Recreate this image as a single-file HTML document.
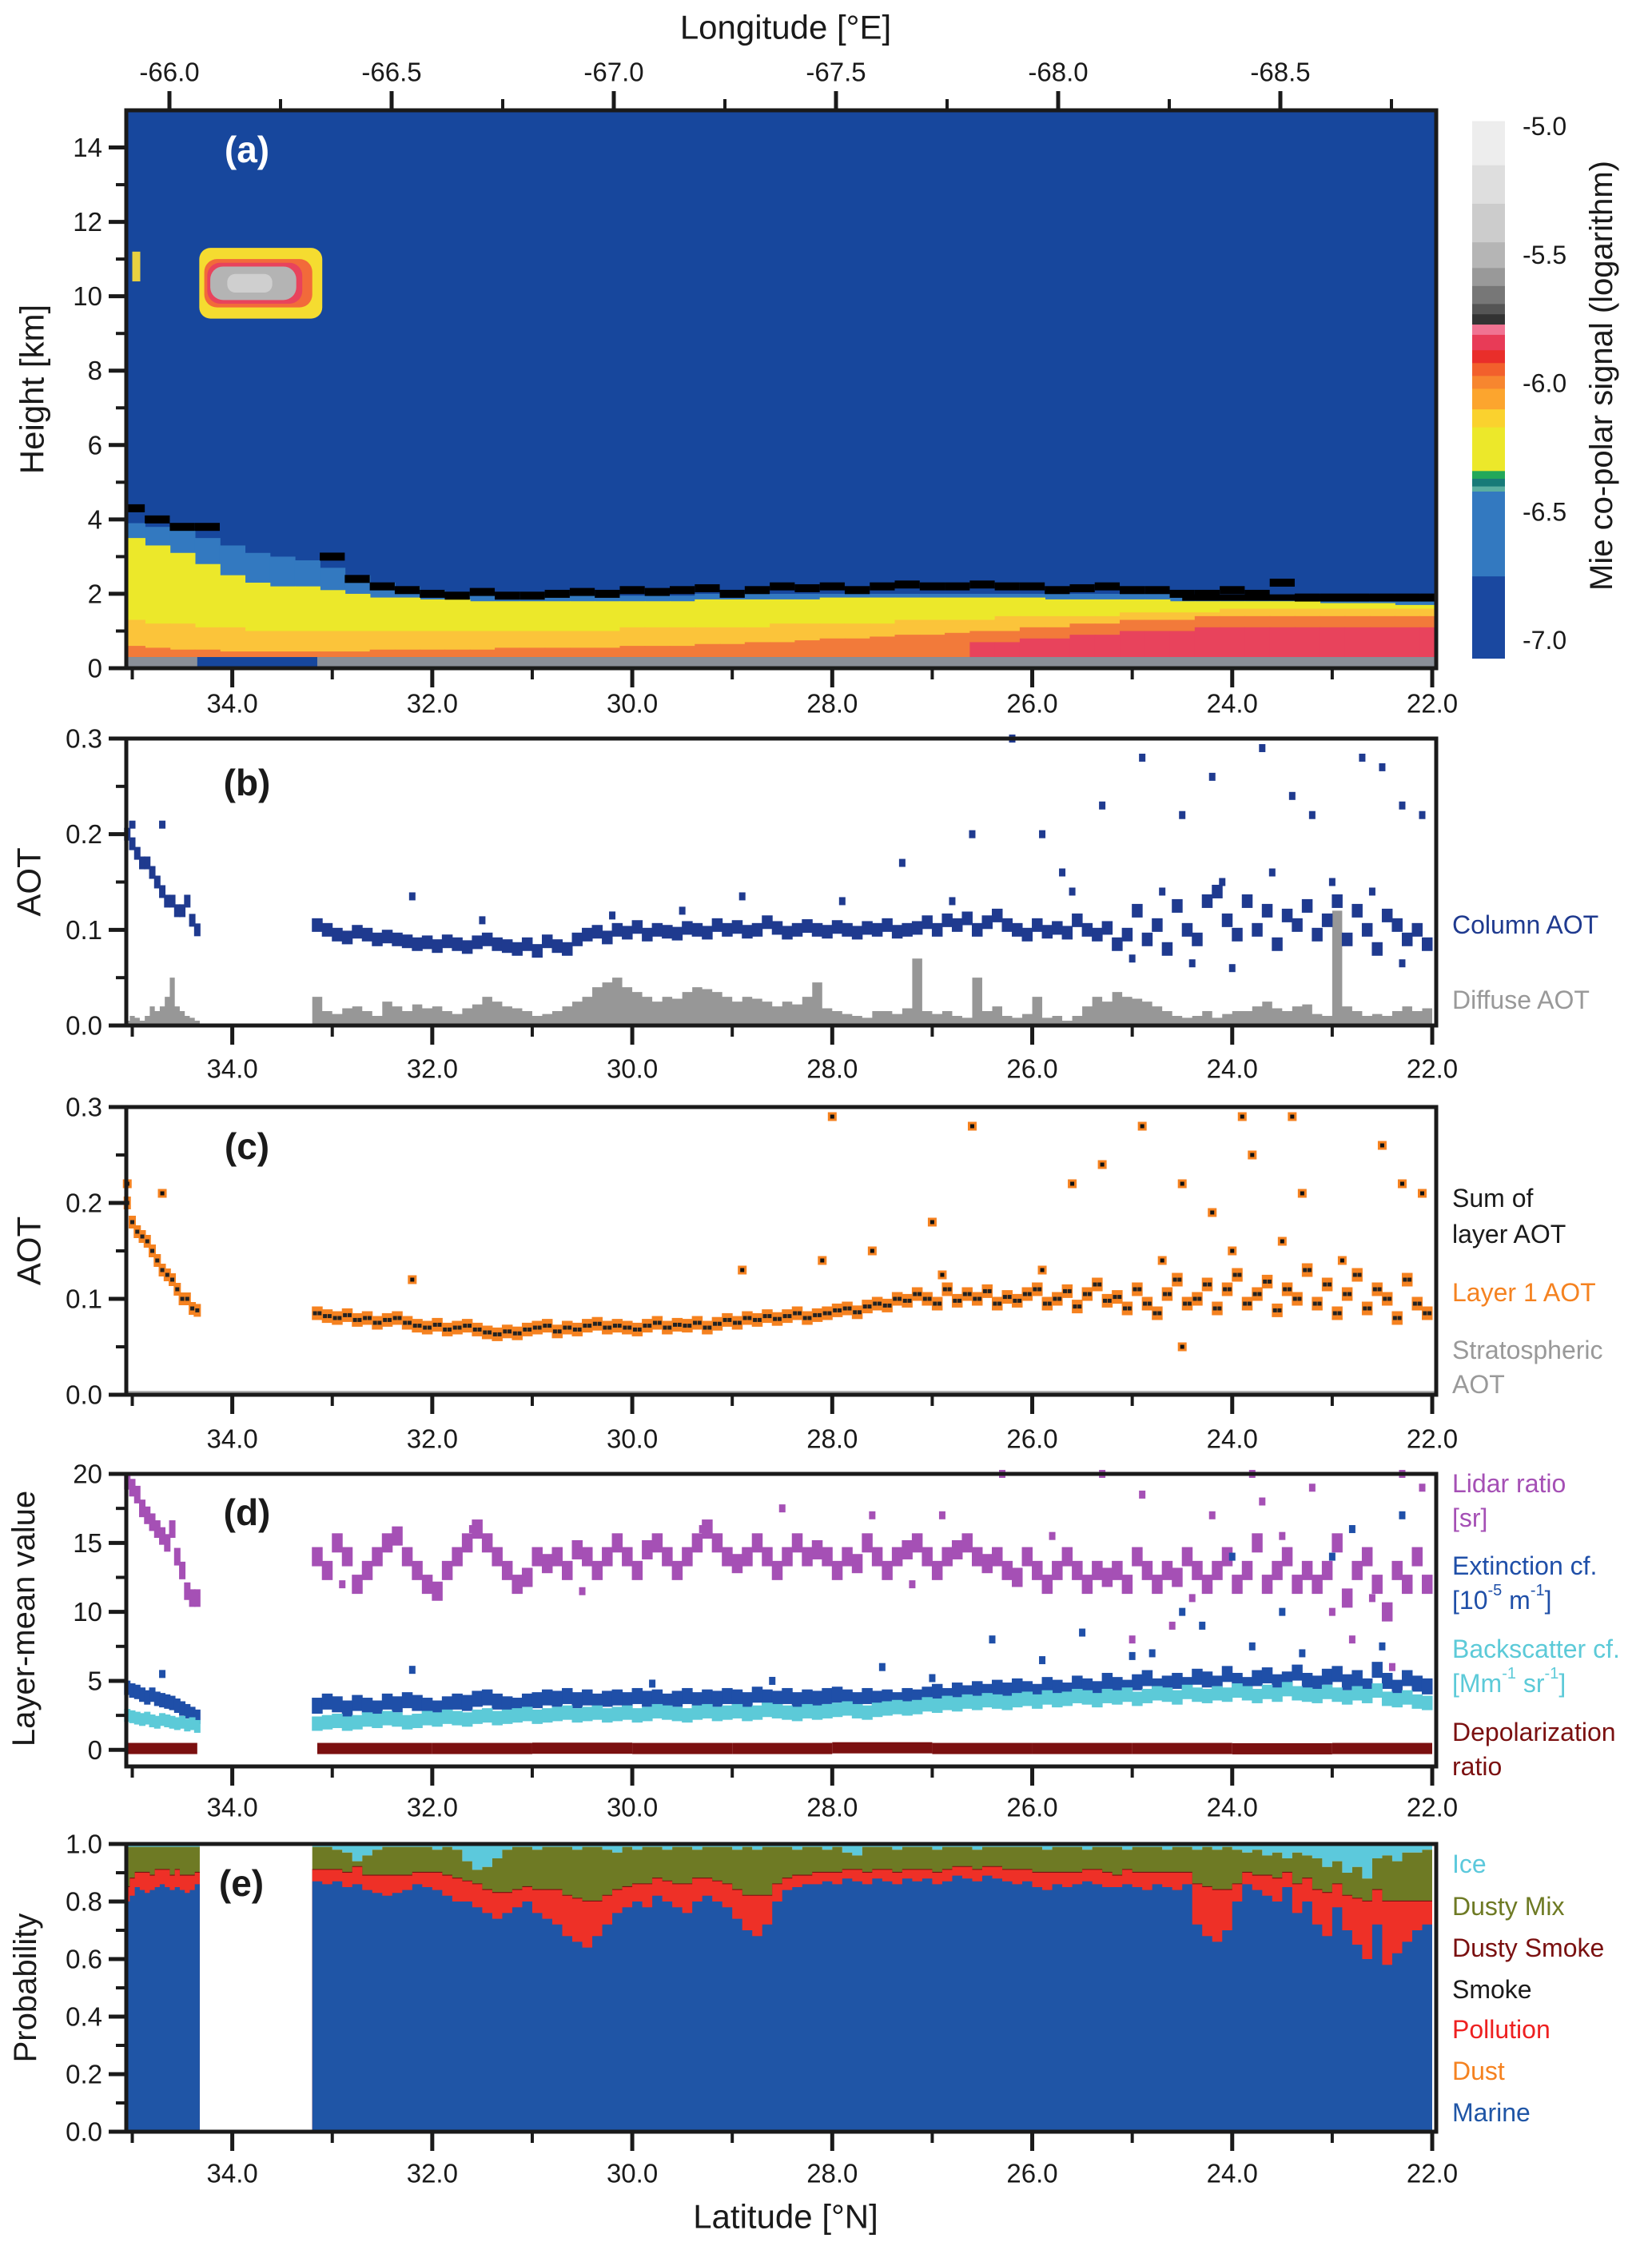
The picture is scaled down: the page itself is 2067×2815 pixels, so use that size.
<!DOCTYPE html>
<html><head><meta charset="utf-8">
<style>
html,body{margin:0;padding:0;background:#fff;}
svg{display:block;font-family:"Liberation Sans",Arial,sans-serif;}
</style></head>
<body>
<svg id="fig" width="2067" height="2815" viewBox="0 0 2067 2815" xmlns="http://www.w3.org/2000/svg"></svg>
<script>
// ---------- DATA ----------
const seg1Start = 35.05, seg1Step = 0.05;
const seg2Start = 33.15, seg2Step = 0.1;
const curtStart = 35.0, curtStep = 0.25;

const colAOT1 = [.20,.19,.18,.17,.17,.16,.15,.14,.13,.13,.12,.12,.13,.11,.10];
const colAOT2 = [.105,.100,.095,.092,.098,.095,.090,.093,.090,.088,
.085,.087,.083,.088,.085,.082,.087,.090,.085,.083,
.080,.085,.078,.088,.083,.080,.090,.095,.098,.092,
.100,.097,.103,.095,.100,.098,.096,.102,.100,.097,
.105,.100,.103,.098,.100,.108,.102,.097,.100,.104,
.100,.098,.103,.100,.097,.102,.100,.105,.098,.100,
.102,.108,.100,.110,.105,.112,.100,.108,.115,.105,
.100,.095,.105,.098,.102,.097,.110,.100,.095,.102,
.085,.095,.120,.090,.105,.080,.125,.100,.090,.130,
.140,.110,.095,.130,.100,.120,.085,.115,.105,.125,
.095,.110,.130,.090,.120,.100,.080,.115,.105,.090,
.100,.085];
const colAOTout = [[35.0,.21],[34.7,.21],[32.2,.135],[28.9,.135],[27.9,.13],[27.3,.17],[26.6,.20],[26.2,.30],[25.9,.20],[25.7,.16],[25.3,.23],[24.9,.28],[24.5,.22],[24.2,.26],[23.7,.29],[23.4,.24],[23.2,.22],[22.7,.28],[22.5,.27],[22.3,.23],[22.1,.22],[24.0,.06],[24.4,.065],[25.0,.07],[22.3,.065],[24.7,.14],[24.1,.15],[23.6,.16],[23.0,.15],[22.6,.14],[25.6,.14],[26.8,.13],[29.5,.12],[30.2,.115],[31.5,.11]];
const diff1 = [.005,.01,.008,.005,.01,.02,.015,.02,.03,.05,.02,.015,.01,.008,.005];
const diff2 = [.030,.015,.012,.018,.020,.015,.010,.025,.020,.015,
.022,.018,.020,.015,.012,.018,.022,.030,.025,.020,
.018,.015,.010,.012,.015,.020,.025,.030,.040,.045,
.050,.040,.035,.030,.025,.030,.028,.035,.040,.038,
.035,.030,.025,.030,.028,.025,.020,.025,.022,.030,
.045,.018,.015,.012,.010,.008,.015,.015,.012,.018,
.070,.015,.012,.015,.010,.008,.050,.015,.020,.010,
.008,.012,.030,.008,.010,.005,.010,.020,.030,.025,
.035,.030,.028,.025,.020,.015,.010,.008,.010,.015,
.008,.012,.015,.015,.020,.025,.018,.015,.020,.022,
.012,.010,.120,.020,.015,.010,.012,.010,.015,.020,
.015,.018];

const sum1 = [.20,.18,.17,.165,.16,.15,.14,.13,.125,.12,.11,.10,.10,.09,.088];
const sum2 = [.085,.082,.080,.083,.078,.080,.075,.078,.080,.075,
.072,.070,.073,.068,.070,.072,.068,.065,.063,.066,
.064,.068,.070,.072,.066,.070,.068,.072,.074,.070,
.072,.070,.068,.072,.075,.070,.073,.072,.075,.070,
.074,.078,.075,.080,.078,.082,.079,.082,.085,.080,
.083,.085,.088,.090,.086,.092,.095,.093,.100,.098,
.105,.100,.095,.110,.098,.105,.100,.108,.095,.102,
.098,.105,.110,.095,.100,.108,.092,.105,.115,.098,
.102,.090,.110,.095,.085,.105,.120,.095,.100,.115,
.090,.110,.125,.095,.105,.118,.088,.110,.100,.130,
.095,.115,.085,.105,.125,.090,.110,.100,.080,.120,
.095,.085];
const sumOut = [[35.05,.22],[34.7,.21],[32.2,.12],[28.9,.13],[28.0,.29],[28.1,.14],[27.6,.15],[27.0,.18],[26.6,.28],[25.6,.22],[25.3,.24],[24.9,.28],[24.5,.22],[24.2,.19],[23.9,.29],[23.8,.25],[23.4,.29],[23.3,.21],[22.5,.26],[22.3,.22],[24.5,.05],[22.1,.21],[24.7,.14],[24.0,.15],[23.5,.16],[22.9,.14],[25.9,.13],[26.9,.125]];

const lidar1 = [19.5,19,18.5,17.5,17,16.5,16,15.5,15,16,14,13,11.5,11,11];
const lidar2 = [14,13,15,14,12,13,14,15,15.5,14,
13,12,11.5,13,14,15,16,15,14,13,
12,12.5,14,13.5,14,13,14.5,14,13,14,
15,14,13,14.5,15,14,13,14,15,16,
15,14,13.5,14,15,14,13,14,15,14,
14.5,14,13,14,13.5,15,14,13,14,14.5,
15,14,13,14,14.5,15,14,13.5,14,13,
12.5,14,13,12,13,14,13,12,13,12.5,
13,12,14,13,12,13,12.5,14,13,12,
13,14,12,13,15,12,13,14,12,13,
12,13,15,11,13,14,12,10,13,12,
14,12];
const lidarOut = [[26.3,20],[25.3,20],[24.9,18.5],[24.2,17],[23.8,20],[23.7,18],[23.2,19],[22.3,20],[22.1,19],[28.5,17.5],[27.6,17],[26.9,17],[25.0,8],[24.6,9],[22.8,8],[22.4,6],[23.0,10],[32.9,12],[31.6,16],[30.5,11.5],[29.3,16],[27.2,12],[25.8,15.5],[24.4,11],[23.5,15.5],[22.6,11]];
const ext1 = [4.5,4.3,4.2,4.0,3.8,4.0,3.7,3.6,3.5,3.4,3.2,3.0,2.8,2.6,2.4];
const ext2 = [3.2,3.5,3.3,3.0,3.4,3.2,3.0,3.5,3.3,3.6,
3.4,3.2,3.0,3.3,3.5,3.4,3.7,3.8,3.5,3.3,
3.2,3.5,3.6,3.8,3.7,3.9,3.6,3.8,3.5,3.7,
3.8,3.6,3.9,3.7,3.8,3.5,3.7,3.9,3.6,3.8,
3.7,3.9,3.8,3.6,4.0,3.8,3.7,3.9,3.6,3.8,
3.7,3.9,4.0,3.8,3.6,3.9,3.7,3.8,3.6,3.9,
3.8,4.0,4.2,3.9,4.3,4.1,4.4,4.2,4.5,4.3,
4.6,4.4,4.2,4.7,4.5,4.3,4.8,4.6,4.4,5.0,
4.7,4.5,4.9,5.2,4.6,4.8,5.0,4.7,5.3,5.1,
4.8,5.5,5.0,4.7,5.2,5.4,4.9,5.1,5.6,5.0,
4.8,5.3,5.5,4.9,5.2,4.6,5.8,5.0,4.5,5.2,
4.8,4.6];
const extOut = [[34.7,5.5],[32.2,5.8],[27.5,6],[26.4,8],[25.5,8.5],[24.5,10],[24.3,9],[23.5,10],[23.0,14],[22.3,17],[24.0,14],[22.8,16],[29.8,4.8],[28.6,5.0],[27.0,5.2],[25.9,6.5],[25.0,6.8],[24.8,7],[23.8,7.5],[23.3,7],[22.5,7.5]];
const bsc1 = [2.5,2.4,2.3,2.2,2.3,2.1,2.0,2.2,2.1,2.0,1.9,2.0,1.8,1.9,1.7];
const bsc2 = [1.9,2.0,2.1,1.9,2.0,2.2,2.1,2.3,2.2,2.0,
2.1,2.3,2.2,2.4,2.3,2.2,2.4,2.5,2.3,2.4,
2.5,2.6,2.4,2.5,2.6,2.7,2.5,2.6,2.7,2.5,
2.6,2.7,2.5,2.6,2.8,2.7,2.6,2.5,2.7,2.8,
2.6,2.7,2.8,2.6,2.7,2.9,2.8,2.7,2.6,2.8,
2.7,2.8,2.9,3.0,2.8,2.7,2.9,3.0,3.1,3.0,
3.1,3.3,3.2,3.4,3.3,3.5,3.4,3.6,3.5,3.4,
3.6,3.7,3.5,3.8,3.6,3.7,3.9,3.8,3.6,3.9,
3.8,4.0,3.7,3.9,4.1,4.0,3.8,4.2,4.0,3.9,
4.1,4.0,4.3,4.1,3.9,4.2,4.0,4.4,4.1,4.0,
3.9,4.2,4.0,3.8,4.1,3.9,4.3,3.7,3.6,3.8,
3.5,3.4];
const depolLat = [35.05,34.35,33.15,32,31,30,29,28,27,26,25,24,23,22.0];
const depolVal = [0.1,0.1,0.1,0.1,0.12,0.1,0.1,0.15,0.1,0.1,0.1,0.08,0.1,0.1];

const marine1 = [.80,.82,.85,.84,.83,.84,.85,.86,.85,.84,.85,.84,.83,.84,.86];
const marine2 = [.87,.86,.87,.85,.86,.84,.83,.82,.83,.84,
.86,.85,.84,.82,.80,.80,.78,.76,.74,.76,
.78,.80,.76,.74,.72,.68,.66,.64,.68,.72,
.76,.78,.80,.78,.82,.80,.78,.76,.80,.82,
.80,.78,.74,.70,.68,.72,.80,.84,.85,.86,
.86,.87,.86,.88,.87,.86,.88,.87,.86,.88,
.87,.88,.86,.87,.89,.88,.87,.89,.88,.87,
.86,.87,.85,.84,.86,.85,.86,.87,.86,.85,
.85,.86,.85,.84,.86,.85,.84,.86,.72,.68,
.66,.70,.80,.86,.84,.82,.80,.85,.76,.80,
.72,.68,.78,.70,.65,.60,.72,.58,.62,.66,
.70,.72];
const poll1 = [.05,.06,.05,.06,.07,.05,.06,.05,.06,.05,.06,.05,.06,.05,.04];
const poll2 = [.04,.05,.04,.05,.06,.05,.06,.07,.06,.05,
.04,.05,.06,.07,.08,.07,.08,.08,.09,.07,
.06,.05,.08,.10,.12,.14,.15,.16,.12,.10,
.08,.07,.06,.08,.06,.07,.08,.10,.08,.06,
.07,.08,.10,.12,.14,.10,.06,.04,.04,.03,
.04,.03,.04,.03,.04,.04,.03,.04,.04,.03,
.04,.03,.04,.04,.03,.04,.04,.03,.04,.04,
.05,.04,.05,.06,.04,.05,.04,.04,.05,.05,
.04,.05,.05,.06,.04,.05,.06,.04,.14,.17,
.18,.14,.06,.04,.05,.07,.08,.05,.10,.08,
.12,.15,.08,.12,.16,.20,.12,.22,.18,.14,
.10,.08];
const ice1 = [.01,.01,.01,.01,.01,.01,.01,.01,.01,.01,.01,.01,.01,.01,.01];
const ice2 = [.01,.01,.02,.03,.06,.04,.02,.01,.01,.01,
.01,.01,.02,.01,.02,.06,.09,.08,.05,.02,
.01,.01,.02,.01,.01,.01,.02,.01,.01,.02,
.03,.01,.02,.01,.01,.02,.01,.01,.02,.01,
.01,.01,.02,.01,.02,.01,.01,.01,.02,.01,
.01,.02,.01,.03,.04,.01,.01,.01,.02,.01,
.01,.01,.02,.01,.01,.01,.02,.01,.01,.01,
.01,.01,.01,.02,.01,.01,.01,.02,.01,.01,
.01,.02,.01,.01,.01,.02,.01,.01,.02,.01,
.02,.01,.02,.03,.02,.04,.03,.05,.03,.04,
.05,.08,.06,.10,.08,.12,.05,.04,.06,.03,
.03,.02];

const yellowTop = [3.5,3.3,3.1,2.8,2.5,2.3,2.2,2.2,2.1,2.0,1.9,1.9,1.85,1.85,1.8,1.8,1.8,1.8,1.8,1.8,1.8,1.8,1.8,1.85,1.85,1.85,1.85,1.85,1.9,1.9,1.9,1.9,1.9,1.9,1.9,1.9,1.9,1.85,1.85,1.85,1.85,1.85,1.8,1.8,1.8,1.8,1.8,1.8,1.75,1.75,1.75,1.7,1.7];
const lightBlueTop = [3.9,3.8,3.7,3.5,3.3,3.1,3.0,2.9,2.7,2.5,2.3,2.2,2.1,2.0,2.0,1.95,1.95,1.95,1.95,1.95,1.95,1.95,1.95,2.0,2.0,2.0,2.0,2.0,2.0,2.0,2.0,2.0,2.0,2.0,2.0,2.0,2.0,2.0,2.0,2.0,2.0,2.0,1.9,1.9,1.9,1.9,1.9,1.9,1.85,1.85,1.85,1.8,1.8];
const orangeTop = [1.3,1.2,1.2,1.1,1.1,1.0,1.0,1.0,1.0,1.0,1.0,1.0,1.0,1.0,1.0,1.0,1.0,1.0,1.0,1.0,1.1,1.1,1.1,1.1,1.1,1.1,1.2,1.2,1.2,1.2,1.2,1.3,1.3,1.3,1.3,1.4,1.4,1.4,1.4,1.4,1.5,1.5,1.5,1.5,1.6,1.6,1.6,1.6,1.6,1.6,1.6,1.6,1.6];
const redTop = [0.6,0.55,0.5,0.5,0.45,0.45,0.45,0.45,0.45,0.45,0.5,0.5,0.5,0.5,0.5,0.55,0.55,0.55,0.55,0.55,0.6,0.6,0.6,0.65,0.65,0.7,0.7,0.75,0.8,0.8,0.85,0.9,0.9,0.95,1.0,1.0,1.1,1.1,1.2,1.2,1.3,1.3,1.3,1.4,1.4,1.4,1.4,1.4,1.4,1.4,1.4,1.4,1.4];
const layerTop = [4.3,4.0,3.8,3.8,null,null,null,null,3.0,2.4,2.2,2.1,2.0,1.95,2.05,1.95,1.95,2.0,2.05,2.0,2.1,2.05,2.1,2.15,2.0,2.1,2.2,2.15,2.2,2.1,2.2,2.25,2.2,2.2,2.25,2.2,2.2,2.1,2.15,2.2,2.1,2.1,2.0,2.0,2.1,2.0,2.3,1.9,1.9,1.9,1.9,1.9,1.9];

const latTicks = [34,32,30,28,26,24,22];
const latMinor = [35,33,31,29,27,25,23];
const lonTicks = [-66.0,-66.5,-67.0,-67.5,-68.0,-68.5];
const lonMinor = [-66.25,-66.75,-67.25,-67.75,-68.25,-68.75];
const hTicks = [0,2,4,6,8,10,12,14];
const aotTicks = [0.0,0.1,0.2,0.3];
const dTicks = [0,5,10,15,20];
const pTicks = [0.0,0.2,0.4,0.6,0.8,1.0];
const cbTicks = [-5.0,-5.5,-6.0,-6.5,-7.0];
const cbStops = [[-7.07,-6.75,'#1a48a0'],[-6.75,-6.42,'#3379c0'],[-6.42,-6.40,'#5aaea0'],[-6.40,-6.37,'#177a78'],[-6.37,-6.34,'#22a85a'],[-6.34,-6.17,'#ece82a'],[-6.17,-6.10,'#fad22e'],[-6.10,-6.02,'#fca52e'],[-6.02,-5.97,'#f7862f'],[-5.97,-5.92,'#f2602c'],[-5.92,-5.87,'#e92e2a'],[-5.87,-5.81,'#e83b57'],[-5.81,-5.77,'#f07392'],[-5.77,-5.73,'#333333'],[-5.73,-5.69,'#555555'],[-5.69,-5.62,'#777777'],[-5.62,-5.55,'#999999'],[-5.55,-5.45,'#b5b5b5'],[-5.45,-5.3,'#cccccc'],[-5.3,-5.15,'#dedede'],[-5.15,-4.98,'#ededed']];

// ---------- LAYOUT ----------
const NS='http://www.w3.org/2000/svg';
const svg=document.getElementById('fig');
const X0=158,X1=1797,LATMAX=35.06,LATMIN=21.96;
function xs(lat){return X0+(LATMAX-lat)/(LATMAX-LATMIN)*(X1-X0);}
function xlon(lon){return 212+(-66-lon)/0.5*278;}
function mk(tag,attrs,parent){const e=document.createElementNS(NS,tag);for(const k in attrs)e.setAttribute(k,attrs[k]);(parent||svg).appendChild(e);return e;}
function txt(s,x,y,size,fill,anchor,parent,extra){const t=mk('text',Object.assign({x:x,y:y,'font-size':size,fill:fill,'text-anchor':anchor||'middle','dominant-baseline':'central'},extra||{}),parent);t.textContent=s;return t;}
function yScale(top,bot,vmin,vmax){return v=>bot-(v-vmin)/(vmax-vmin)*(bot-top);}

const panels={a:[138,836,0,15],b:[924,1283,0,0.3],c:[1385,1745,0,0.3],d:[1844,2210,-1.2,20],e:[2307,2667,0,1]};

function frame(id,yTop,yBot,yTicks,ys,fmt,labY,name){
  const g=mk('g',{});
  
  
  mk('rect',{x:X0,y:yTop,width:X1-X0,height:yBot-yTop,fill:'none',stroke:'#1a1a1a','stroke-width':5},g);
  latTicks.forEach(l=>{mk('line',{x1:xs(l),x2:xs(l),y1:yBot,y2:yBot+24,stroke:'#1a1a1a','stroke-width':5},g);
    const t=txt(l.toFixed(1),xs(l),labY,33,'#1a1a1a','middle',g);
    });
  latMinor.forEach(l=>mk('line',{x1:xs(l),x2:xs(l),y1:yBot,y2:yBot+14,stroke:'#1a1a1a','stroke-width':4},g));
  yTicks.forEach(v=>{const y=ys(v);mk('line',{x1:X0-22,x2:X0,y1:y,y2:y,stroke:'#1a1a1a','stroke-width':5},g);
    const t=txt(fmt(v),X0-30,y,33,'#1a1a1a','end',g);
    });
  for(let i=0;i<yTicks.length-1;i++){const y=ys((yTicks[i]+yTicks[i+1])/2);mk('line',{x1:X0-13,x2:X0,y1:y,y2:y,stroke:'#1a1a1a','stroke-width':4},g);}
  return g;
}
function panelLabel(s,x,y,col,name){const t=txt(s,x,y,46,col,'middle',null,{'font-weight':'bold'});}
function yTitle(s,x,y,size,name){const t=txt(s,x,y,size,'#1a1a1a','middle',null,{transform:`rotate(-90 ${x} ${y})`});}
function legend(s,y,col,name){const t=txt(s,1817,y,32,col,'start');return t;}
function segLat(seg,i){return seg===1?seg1Start-i*seg1Step:seg2Start-i*seg2Step;}

// ---------- PANEL A ----------
(function(){
  const [yt,yb,v0,v1]=panels.a; const ys=yScale(yt,yb,v0,v1);
  const g=mk('g',{});  
  mk('clipPath',{id:'clipA'}).appendChild(document.createElementNS(NS,'rect'));
  const cr=svg.querySelector('#clipA rect');cr.setAttribute('x',X0);cr.setAttribute('y',yt);cr.setAttribute('width',X1-X0);cr.setAttribute('height',yb-yt);
  g.setAttribute('clip-path','url(#clipA)');
  mk('rect',{x:X0,y:yt,width:X1-X0,height:yb-yt,fill:'#17479d'},g);
  function band(arr,bottom,col,nm){
    arr.forEach((h,i)=>{const lat=curtStart-i*curtStep;const xa=xs(lat+curtStep/2),xb=xs(lat-curtStep/2);
      const r=mk('rect',{x:xa,y:ys(h),width:xb-xa+0.8,height:ys(bottom)-ys(h),fill:col},g);
      });
  }
  band(lightBlueTop,0.3,'#3379c0','light-blue-band');
  band(yellowTop,0.3,'#ece82a','yellow-band');
  band(orangeTop,0.3,'#fbc43a','orange-band');
  band(redTop,0.3,'#f27a3a','red-band');
  redTop.forEach((h,i)=>{const lat=curtStart-i*curtStep;if(h<1.0)return;const xa=xs(lat+curtStep/2),xb=xs(lat-curtStep/2);
    const r=mk('rect',{x:xa,y:ys(h-0.3),width:xb-xa+0.8,height:ys(0.3)-ys(h-0.3),fill:'#e8435c'},g);
    });
  mk('rect',{x:X0,y:ys(0.3),width:X1-X0,height:ys(0)-ys(0.3),fill:'#8a8f98'},g);
  mk('rect',{x:xs(34.35),y:ys(0.3),width:xs(33.15)-xs(34.35),height:ys(0)-ys(0.3),fill:'#17479d'},g);
  const cl=mk('g',{},g);  
  mk('rect',{x:xs(34.33),y:ys(11.3),width:xs(33.1)-xs(34.33),height:ys(9.4)-ys(11.3),rx:14,fill:'#f5dc30'},cl);
  mk('rect',{x:xs(34.28),y:ys(11.0),width:xs(33.2)-xs(34.28),height:ys(9.7)-ys(11.0),rx:16,fill:'#f26a3a'},cl);
  mk('rect',{x:xs(34.25),y:ys(10.9),width:xs(33.3)-xs(34.25),height:ys(9.8)-ys(10.9),rx:16,fill:'#e8435c'},cl);
  mk('rect',{x:xs(34.22),y:ys(10.8),width:xs(33.36)-xs(34.22),height:ys(9.9)-ys(10.8),rx:16,fill:'#b4b4b4'},cl);
  mk('rect',{x:xs(34.05),y:ys(10.6),width:xs(33.6)-xs(34.05),height:ys(10.1)-ys(10.6),rx:10,fill:'#cfcfcf'},cl);
  mk('rect',{x:xs(35.0),y:ys(11.2),width:10,height:ys(10.4)-ys(11.2),fill:'#e8d040'},g);
  layerTop.forEach((h,i)=>{if(h===null)return;const lat=curtStart-i*curtStep;const xa=xs(lat+curtStep/2);
    const r=mk('rect',{x:xa,y:ys(h)-5,width:xs(lat-curtStep/2)-xa,height:10,fill:'#000'},g);
    });
  mk('line',{x1:xs(24.5),x2:X1,y1:ys(1.9),y2:ys(1.9),stroke:'#000','stroke-width':8},g);
  frame('a',yt,yb,hTicks,ys,v=>String(v),880,'panel-a');
  lonTicks.forEach(l=>{mk('line',{x1:xlon(l),x2:xlon(l),y1:yt,y2:yt-24,stroke:'#1a1a1a','stroke-width':5});
    const t=txt(l.toFixed(1),xlon(l),90,33,'#1a1a1a');});
  lonMinor.forEach(l=>{if(xlon(l)<X1)mk('line',{x1:xlon(l),x2:xlon(l),y1:yt,y2:yt-14,stroke:'#1a1a1a','stroke-width':4});});
  const lt=txt('Longitude [°E]',983,34,42,'#1a1a1a');
  yTitle('Height [km]',40,487,42,'height-axis-title');
  panelLabel('(a)',309,187,'#ffffff','panel-a-label');
  const cb=mk('g',{});  
  const cy=v=>158+(-5-v)*321.5;
  cbStops.forEach(s=>mk('rect',{x:1842,y:cy(s[1]),width:41,height:cy(s[0])-cy(s[1])+0.5,fill:s[2]},cb));
  cbTicks.forEach(v=>{const t=txt(v.toFixed(1),1905,cy(v),32,'#1a1a1a','start',cb);});
  const ct=txt('Mie co-polar signal (logarithm)',2004,470,40,'#1a1a1a','middle',null,{transform:'rotate(-90 2004 470)'});
  
})();

function scatter(g,arr,seg,ys,fill,w,h,nm,inner){
  arr.forEach((v,i)=>{const lat=segLat(seg,i);const x=xs(lat),y=ys(v);
    const r=mk('rect',{x:x-w/2,y:y-h/2,width:w,height:h,fill:fill},g);
    
    if(inner){mk('rect',{x:x-w/4-2,y:y-2.5,width:5,height:5,fill:inner},g);mk('rect',{x:x+w/4-3,y:y-2.5,width:5,height:5,fill:inner},g);}});
}
function scatterPts(g,pts,ys,fill,w,h,nm,inner){
  pts.forEach(p=>{const x=xs(p[0]),y=ys(p[1]);
    const r=mk('rect',{x:x-w/2,y:y-h/2,width:w,height:h,fill:fill},g);
    
    if(inner)mk('rect',{x:x-2.5,y:y-2.5,width:5,height:5,fill:inner},g);});
}
function stepArea(g,arr,seg,ys,base,fill,nm){
  const st=seg===1?seg1Step:seg2Step;let d='';
  arr.forEach((v,i)=>{const lat=segLat(seg,i);const xa=xs(lat+st/2),xb=xs(lat-st/2);
    d+=(i===0?`M${xa},${ys(base)}L${xa},${ys(v)}`:`L${xa},${ys(v)}`)+`L${xb},${ys(v)}`;});
  const last=segLat(seg,arr.length-1);d+=`L${xs(last-st/2)},${ys(base)}Z`;
  const p=mk('path',{d:d,fill:fill},g);
}
function stepBand(g,lo,hi,seg,ys,fill,nm){
  const st=seg===1?seg1Step:seg2Step;let top='',bot=[];
  hi.forEach((v,i)=>{const lat=segLat(seg,i);const xa=xs(lat+st/2),xb=xs(lat-st/2);
    top+=(i===0?'M':'L')+`${xa},${ys(v)}L${xb},${ys(v)}`;bot.push(`L${xb},${ys(lo[i])}L${xa},${ys(lo[i])}`);});
  const p=mk('path',{d:top+bot.reverse().join('')+'Z',fill:fill},g);
}

// ---------- PANEL B ----------
(function(){
  const [yt,yb,v0,v1]=panels.b; const ys=yScale(yt,yb,v0,v1);
  const g=mk('g',{});  
  stepArea(g,diff1,1,ys,0,'#979797','diffuse-aot-area');
  stepArea(g,diff2,2,ys,0,'#979797','diffuse-aot-area');
  scatter(g,colAOT1,1,ys,'#1f3a8f',8,16,'column-aot-point');
  scatter(g,colAOT2,2,ys,'#1f3a8f',13.5,17,'column-aot-point');
  scatterPts(g,colAOTout,ys,'#1f3a8f',8,10,'column-aot-point');
  frame('b',yt,yb,aotTicks,ys,v=>v.toFixed(1),1337,'panel-b');
  yTitle('AOT',36,(yt+yb)/2,42,'aot-axis-title-b');
  panelLabel('(b)',309,979,'#1a1a1a','panel-b-label');
  legend('Column AOT',1157,'#1f3a8f','legend-column-aot');
  legend('Diffuse AOT',1251,'#999999','legend-diffuse-aot');
})();

// ---------- PANEL C ----------
(function(){
  const [yt,yb,v0,v1]=panels.c; const ys=yScale(yt,yb,v0,v1);
  const g=mk('g',{});  
  mk('rect',{x:X0,y:ys(0.004),width:X1-X0,height:ys(0)-ys(0.004),fill:'#aaaaaa'},g);
  scatter(g,sum1,1,ys,'#f58220',9,16,'layer1-aot-point');
  scatter(g,sum2,2,ys,'#f58220',13.5,17,'layer1-aot-point','#222');
  scatterPts(g,sumOut,ys,'#f58220',11,11,'layer1-aot-point','#111');
  sum1.forEach((v,i)=>mk('rect',{x:xs(segLat(1,i))-2.5,y:ys(v)-2.5,width:5,height:5,fill:'#222'},g));
  frame('c',yt,yb,aotTicks,ys,v=>v.toFixed(1),1800,'panel-c');
  yTitle('AOT',36,(yt+yb)/2,42,'aot-axis-title-c');
  panelLabel('(c)',309,1434,'#1a1a1a','panel-c-label');
  legend('Sum of',1499,'#1a1a1a','legend-sum-layer-aot');
  legend('layer AOT',1544,'#1a1a1a','legend-sum-layer-aot-2');
  legend('Layer 1 AOT',1617,'#f58220','legend-layer1-aot');
  legend('Stratospheric',1689,'#999999','legend-stratospheric-aot');
  legend('AOT',1732,'#999999','legend-stratospheric-aot-2');
})();

// ---------- PANEL D ----------
(function(){
  const [yt,yb,v0,v1]=panels.d; const ys=yScale(yt,yb,v0,v1);
  const g=mk('g',{});  
  for(let i=0;i<depolLat.length-1;i++){if(i===1)continue;const xa=xs(depolLat[i]),xb=xs(depolLat[i+1]);
    const r=mk('rect',{x:xa,y:ys(depolVal[i])-7,width:xb-xa,height:14,fill:'#7b1010'},g);}
  scatter(g,lidar1,1,ys,'#a550b5',8,22,'lidar-ratio-point');
  scatter(g,lidar2,2,ys,'#a550b5',13.5,24,'lidar-ratio-point');
  scatterPts(g,lidarOut,ys,'#a550b5',8,10,'lidar-ratio-point');
  scatter(g,ext1,1,ys,'#1f4fa8',8,18,'extinction-point');
  scatter(g,ext2,2,ys,'#1f4fa8',13.5,20,'extinction-point');
  scatterPts(g,extOut,ys,'#1f4fa8',8,10,'extinction-point');
  scatter(g,bsc1,1,ys,'#5ccad8',8,16,'backscatter-point');
  scatter(g,bsc2,2,ys,'#5ccad8',13.5,18,'backscatter-point');
  frame('d',yt,yb,dTicks,ys,v=>String(v),2261,'panel-d');
  yTitle('Layer-mean value',30,2025,40,'layer-mean-axis-title');
  panelLabel('(d)',309,1892,'#1a1a1a','panel-d-label');
  legend('Lidar ratio',1856,'#a550b5','legend-lidar-ratio');
  legend('[sr]',1899,'#a550b5','legend-lidar-ratio-unit');
  legend('Extinction cf.',1959,'#1f4fa8','legend-extinction');
  const u=legend('[10',2002,'#1f4fa8','legend-extinction-unit');
  u.innerHTML='[10<tspan font-size="20" dy="-12">-5</tspan><tspan dy="12"> m</tspan><tspan font-size="20" dy="-12">-1</tspan><tspan dy="12">]</tspan>';
  legend('Backscatter cf.',2063,'#5ccad8','legend-backscatter');
  const u2=legend('[Mm',2106,'#5ccad8','legend-backscatter-unit');
  u2.innerHTML='[Mm<tspan font-size="20" dy="-12">-1</tspan><tspan dy="12"> sr</tspan><tspan font-size="20" dy="-12">-1</tspan><tspan dy="12">]</tspan>';
  legend('Depolarization',2167,'#7b1010','legend-depolarization');
  legend('ratio',2210,'#7b1010','legend-depolarization-2');
})();

// ---------- PANEL E ----------
(function(){
  const [yt,yb,v0,v1]=panels.e; const ys=yScale(yt,yb,v0,v1);
  const g=mk('g',{});  
  [[ice1,1],[ice2,2]].forEach(([ice,seg])=>{
    const one=ice.map(()=>1), mixTop=ice.map(v=>1-v);
    stepBand(g,mixTop,one,seg,ys,'#5cc9dc','ice-area');
    stepArea(g,mixTop,seg,ys,0,'#6e7a24','dusty-mix-area');
  });
  [[marine1,poll1,1],[marine2,poll2,2]].forEach(([m,p,seg])=>{
    const pt=m.map((v,i)=>v+p[i]);
    stepArea(g,pt.map(v=>v+0.003),seg,ys,0,'#7a1010','dusty-smoke-area');
    stepArea(g,pt,seg,ys,0,'#ee3027','pollution-area');
    stepArea(g,m,seg,ys,0,'#1f55a6','marine-area');
  });
  frame('e',yt,yb,pTicks,ys,v=>v.toFixed(1),2719,'panel-e');
  yTitle('Probability',32,(yt+yb)/2,40,'probability-axis-title');
  panelLabel('(e)',302,2356,'#1a1a1a','panel-e-label');
  legend('Ice',2332,'#5cc9dc','legend-ice');
  legend('Dusty Mix',2385,'#6e7a24','legend-dusty-mix');
  legend('Dusty Smoke',2437,'#7a1010','legend-dusty-smoke');
  legend('Smoke',2489,'#1a1a1a','legend-smoke');
  legend('Pollution',2539,'#ee2020','legend-pollution');
  legend('Dust',2591,'#f58220','legend-dust');
  legend('Marine',2643,'#1f55a6','legend-marine');
  const t=txt('Latitude [°N]',983,2773,42,'#1a1a1a');
})();
</script>
</body></html>
